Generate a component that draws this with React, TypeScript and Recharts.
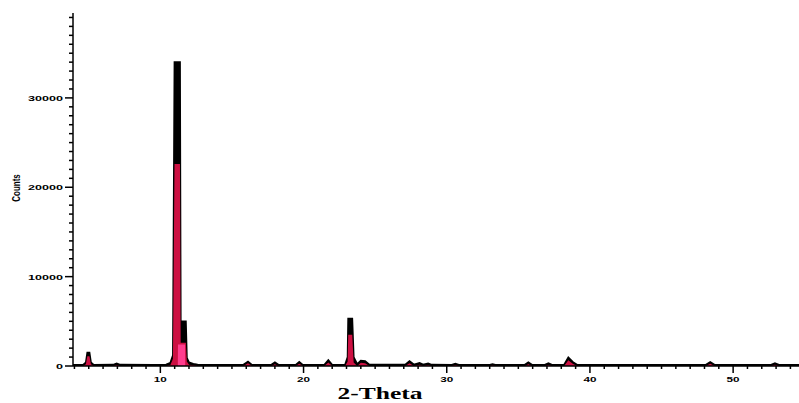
import React from "react";
import { ComposedChart, Area, XAxis, YAxis } from "recharts";

// 2-Theta positions (degrees)
const thetas = [
  3.9, 4.6, 4.8, 4.9, 5.05, 5.15, 5.35, 6.7, 6.95, 7.2, 9.5, 10.4, 10.7, 10.88, 10.99, 11.22, 11.23,
  11.37, 11.42, 11.72, 11.74, 11.78, 11.85, 12.0, 12.3, 12.6, 15.8, 16.12, 16.4, 17.75, 18.0, 18.25,
  19.45, 19.7, 19.95, 21.45, 21.73, 22.0, 22.9, 23.08, 23.12, 23.4, 23.5, 23.75, 24.0, 24.3, 24.6,
  27.1, 27.4, 27.7, 28.1, 28.35, 28.7, 28.95, 30.35, 30.6, 30.85, 33.0, 33.2, 33.4, 35.45, 35.7,
  35.95, 36.85, 37.1, 37.35, 38.2, 38.49, 38.8, 39.1, 48.1, 48.4, 48.7, 52.65, 52.92, 53.2, 54.6,
];
// measured pattern (black)
const blackCounts = [
  120, 130, 400, 1500, 1500, 400, 130, 140, 280, 140, 130, 160, 350, 1200, 34000, 34000, 34000,
  34000, 5000, 5000, 5000, 5000, 900, 400, 250, 140, 130, 500, 130, 130, 400, 130,
  130, 450, 130, 130, 650, 130, 140, 1000, 5300, 5300, 1000, 200, 600, 550, 150,
  140, 550, 160, 350, 150, 280, 140, 130, 250, 130, 130, 200, 130, 130, 400,
  130, 130, 300, 130, 150, 950, 450, 150, 130, 450, 130, 130, 320, 130, 120,
];
// fitted pattern (red)
const redCounts = [
  0, 0, 200, 1100, 1100, 200, 0, 0, 120, 0, 0, 0, 100, 800, 22600, 22600, 22600,
  22600, 2600, 2600, 2600, 2600, 500, 150, 80, 0, 0, 300, 0, 0, 200, 0,
  0, 250, 0, 0, 400, 0, 0, 500, 3500, 3500, 400, 0, 350, 300, 0,
  0, 300, 0, 150, 0, 100, 0, 0, 100, 0, 0, 50, 0, 0, 200,
  0, 0, 120, 0, 0, 650, 250, 0, 0, 250, 0, 0, 150, 0, 0,
];
// highlight (pink)
const pinkCounts = thetas.map((t) => (t >= 11.23 && t <= 11.72 ? 2400 : 0));

const xTicks = Array.from({ length: 51 }, (_, i) => 4 + i);
const yTicks = Array.from({ length: 40 }, (_, i) => i * 1000);

const data = thetas.map((t, i) => ({
  t,
  black: blackCounts[i],
  red: redCounts[i],
  pink: pinkCounts[i],
}));

const XTick = (props: any) => {
  const { x, y, payload } = props;
  const v = payload.value as number;
  const major = v % 10 === 0;
  return (
    <g>
      <line x1={x} x2={x} y1={y} y2={y + (major ? 7 : 3)} stroke="#000" strokeWidth={1.5} />
      {major && (
        <text
          x={x}
          y={y + 16}
          textAnchor="middle"
          fontSize={8}
          fontWeight="bold"
          fontFamily="Liberation Sans, Arial, sans-serif"
          textLength={13}
          lengthAdjust="spacingAndGlyphs"
          fill="#000"
        >
          {v}
        </text>
      )}
    </g>
  );
};

const YTick = (props: any) => {
  const { x, y, payload } = props;
  const v = payload.value as number;
  const major = v % 10000 === 0;
  const label = String(v);
  return (
    <g>
      <line x1={x - (major ? 8 : 4)} x2={x} y1={y} y2={y} stroke="#000" strokeWidth={1.5} />
      {major && (
        <text
          x={x - 10}
          y={y + 3}
          textAnchor="end"
          fontSize={8}
          fontWeight="bold"
          fontFamily="Liberation Sans, Arial, sans-serif"
          textLength={label.length * 7}
          lengthAdjust="spacingAndGlyphs"
          fill="#000"
        >
          {label}
        </text>
      )}
    </g>
  );
};

export default function App() {
  return (
    <div style={{ position: "absolute", left: 0, top: 0, width: 799, height: 403, background: "#fff" }}>
      <ComposedChart
        width={799}
        height={403}
        data={data}
        margin={{ top: 13, right: 0, bottom: 0, left: 0 }}
      >
        <XAxis
          dataKey="t"
          type="number"
          domain={[3.9, 54.6]}
          ticks={xTicks}
          interval={0}
          allowDataOverflow
          height={37}
          axisLine={{ stroke: "#000", strokeWidth: 1.5 }}
          tickLine={false}
          tickSize={0}
          tickMargin={0}
          tick={(p: any) => <XTick {...p} />}
        />
        <YAxis
          type="number"
          domain={[0, 39500]}
          ticks={yTicks}
          interval={0}
          allowDataOverflow
          width={73}
          axisLine={{ stroke: "#000", strokeWidth: 1.5 }}
          tickLine={false}
          tickSize={0}
          tickMargin={0}
          tick={(p: any) => <YTick {...p} />}
        />
        <Area
          type="linear"
          dataKey="black"
          stroke="#000"
          strokeWidth={1.8}
          fill="#000"
          fillOpacity={1}
          dot={false}
          activeDot={false}
          isAnimationActive={false}
        />
        <Area
          type="linear"
          dataKey="red"
          stroke="none"
          fill="#cc1042"
          fillOpacity={1}
          dot={false}
          activeDot={false}
          isAnimationActive={false}
        />
        <Area
          type="linear"
          dataKey="pink"
          stroke="none"
          fill="#ff3d8e"
          fillOpacity={1}
          dot={false}
          activeDot={false}
          isAnimationActive={false}
        />
        <text
          transform="translate(20,188) scale(1.4,1) rotate(-90)"
          textAnchor="middle"
          fontSize={8}
          fontWeight="bold"
          fontFamily="Liberation Sans, Arial, sans-serif"
          fill="#000"
        >
          Counts
        </text>
        <text
          x={380}
          y={399}
          textAnchor="middle"
          fontSize={17}
          fontWeight="bold"
          fontFamily="Liberation Serif, Times New Roman, serif"
          textLength={85}
          lengthAdjust="spacingAndGlyphs"
          fill="#000"
        >
          2-Theta
        </text>
      </ComposedChart>
    </div>
  );
}
